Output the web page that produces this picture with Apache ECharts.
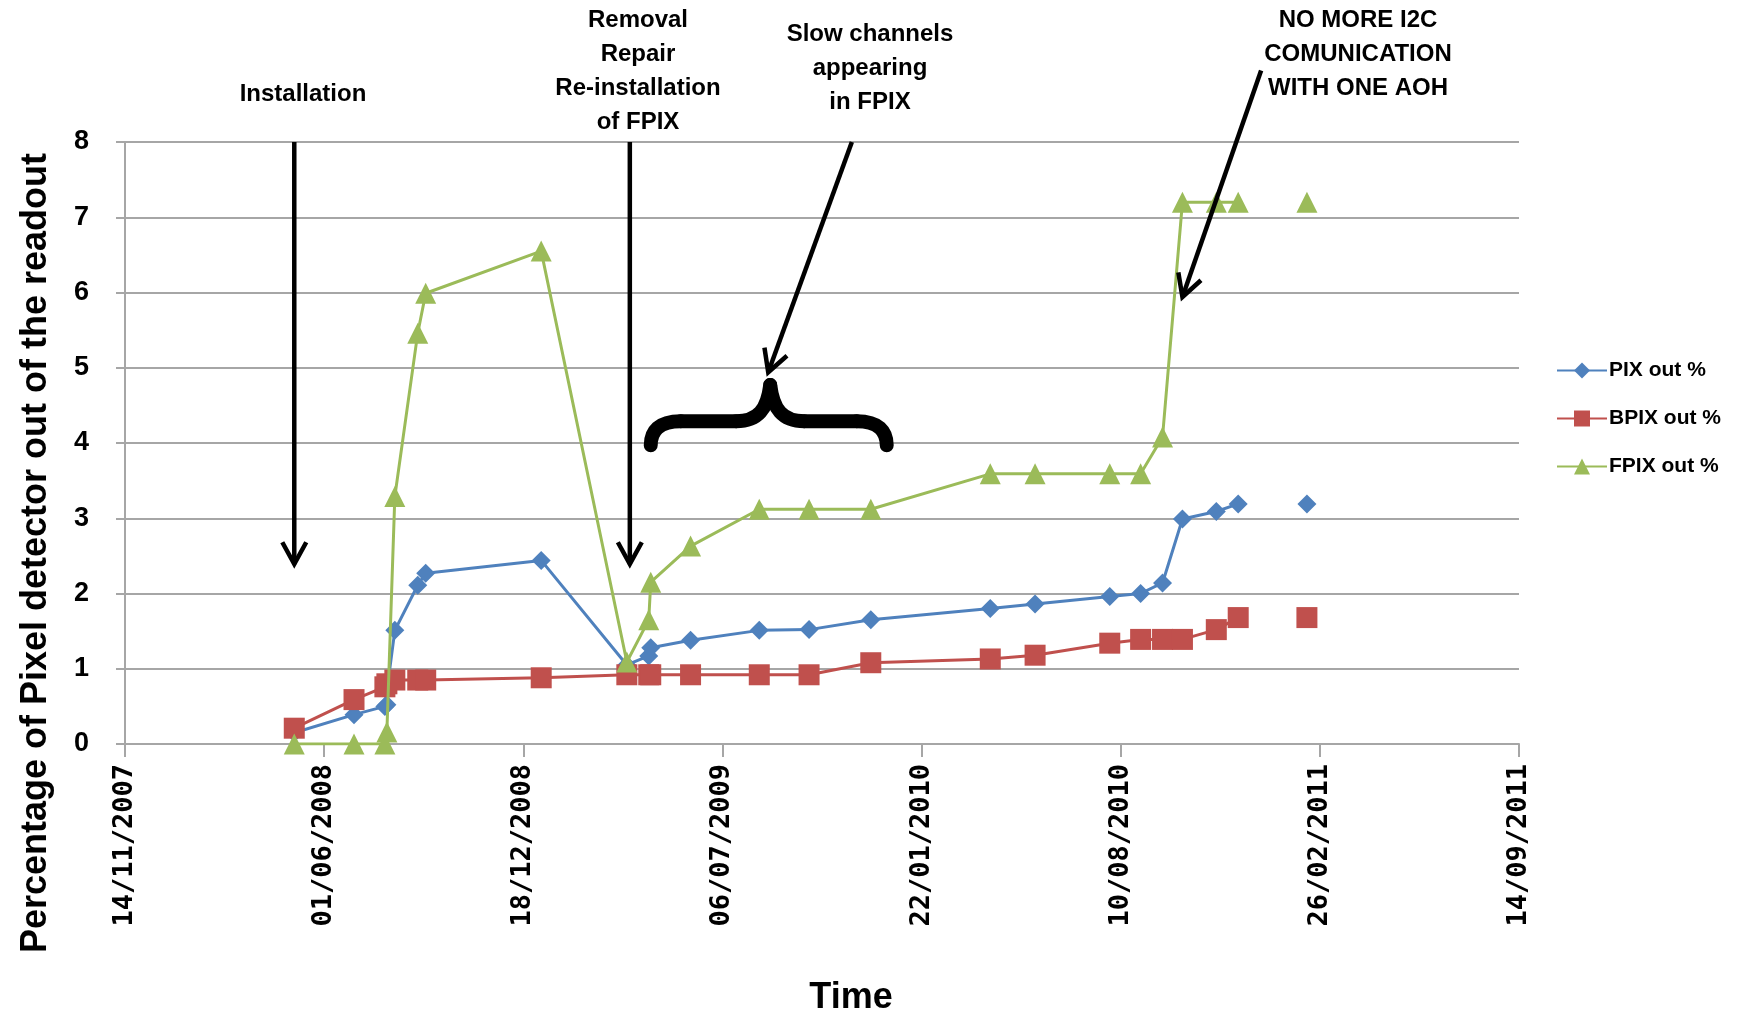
<!DOCTYPE html>
<html>
<head>
<meta charset="utf-8">
<script src="https://cdn.jsdelivr.net/npm/echarts@6/dist/echarts.min.js"></script>
<style>
  html, body { margin: 0; padding: 0; background: #ffffff; }
  #chart { width: 1739px; height: 1023px; }
</style>
</head>
<body>
<div id="chart"></div>
<script>
// Readout snapshots of the pixel detector (dates stored as ISO strings).
// A null row marks a period with no readings, which breaks the lines.
const readoutDates = [
  '2008-05-02', '2008-07-01', '2008-08-01', '2008-08-03', '2008-08-11',
  '2008-09-03', '2008-09-11', '2009-01-05', '2009-04-01', '2009-04-23',
  '2009-04-25', '2009-06-04', '2009-08-12', '2009-10-01', '2009-12-02',
  '2010-04-01', '2010-05-16', '2010-07-30', '2010-08-30', '2010-09-21',
  '2010-10-11', '2010-11-14', '2010-12-06', '2011-01-10', '2011-02-13'
];
const pixOut = [
  0.15, 0.39, 0.50, 0.52, 1.51,
  2.11, 2.27, 2.44, 1.05, 1.17,
  1.28, 1.38, 1.51, 1.52, 1.65,
  1.80, 1.86, 1.96, 2.00, 2.14,
  2.99, 3.09, 3.19, null, 3.19
];
const bpixOut = [
  0.21, 0.59, 0.76, 0.80, 0.85,
  0.85, 0.85, 0.88, 0.92, 0.92,
  0.92, 0.92, 0.92, 0.92, 1.08,
  1.13, 1.18, 1.34, 1.39, 1.39,
  1.39, 1.52, 1.68, null, 1.68
];
const fpixOut = [
  0.00, 0.00, 0.00, 0.16, 3.29,
  5.46, 5.99, 6.55, 1.09, 1.65,
  2.15, 2.63, 3.12, 3.12, 3.12,
  3.59, 3.59, 3.59, 3.59, 4.08,
  7.20, 7.20, 7.20, null, 7.20
];
const seriesNames = ['PIX out %', 'BPIX out %', 'FPIX out %'];

// Time axis: starts 14/11/2007, one tick every 200 days up to 14/09/2011.
const axisStartDate = '2007-11-14';
const axisSpanDays = 1400;
const tickStepDays = 200;
const yMin = 0, yMax = 8, yStep = 1;

// Event notes drawn over the plot, anchored in [date, percentage] terms.
const eventArrows = [
  { from: ['2008-05-02', 8.0], to: ['2008-05-02', 2.39] },
  { from: ['2009-04-04', 8.0], to: ['2009-04-04', 2.39] },
  { from: ['2009-11-13', 8.0], to: ['2009-08-21', 4.94] },
  { from: ['2010-12-29', 8.95], to: ['2010-10-11', 5.94] }
];
const slowChannelSpan = { start: '2009-04-25', end: '2009-12-18', peak: '2009-08-23', top: 4.77, arm: 4.29, foot: 3.97 };
const eventNotes = [
  { text: 'Installation', x: 303, y: 94 },
  { text: 'Removal\nRepair\nRe-installation\nof FPIX', x: 638, y: 71 },
  { text: 'Slow channels\nappearing\nin FPIX', x: 870, y: 68 },
  { text: 'NO MORE I2C\nCOMUNICATION\nWITH ONE AOH', x: 1358, y: 54 }
];

const DAY_MS = 86400000;
const t0 = Date.parse(axisStartDate + 'T00:00:00Z');
function dayOffset(iso) {
  return Math.round((Date.parse(iso + 'T00:00:00Z') - t0) / DAY_MS);
}
function dayLabel(d) {
  const dt = new Date(t0 + d * DAY_MS);
  const p = n => String(n).padStart(2, '0');
  return p(dt.getUTCDate()) + '/' + p(dt.getUTCMonth() + 1) + '/' + dt.getUTCFullYear();
}
function toPoints(values) {
  return readoutDates.map((d, i) => [dayOffset(d), values[i] == null ? '-' : values[i]]);
}

const GRID_GRAY = '#A6A6A6';
const palette = ['#4F81BD', '#C0504D', '#9BBB59'];
const TEXT_FONT = '"Liberation Sans", Arial, sans-serif';

function lineSeries(idx, values, symbol, size, width) {
  return {
    name: seriesNames[idx],
    type: 'line',
    data: toPoints(values),
    symbol: symbol,
    symbolSize: size,
    connectNulls: false,
    lineStyle: { color: palette[idx], width: width },
    itemStyle: { color: palette[idx] },
    emphasis: { disabled: true },
    z: 2 + idx
  };
}

const chart = echarts.init(document.getElementById('chart'), null, { renderer: 'canvas' });

chart.setOption({
  animation: false,
  backgroundColor: '#ffffff',
  grid: { left: 125, right: 220, top: 142, bottom: 279, containLabel: false },
  legend: {
    orient: 'vertical',
    left: 1556,
    top: 360,
    itemWidth: 50,
    itemHeight: 20,
    itemGap: 27,
    padding: 0,
    data: seriesNames,
    textStyle: { fontFamily: TEXT_FONT, fontWeight: 'bold', fontSize: 21, color: '#000', padding: [0, 0, 0, -3] }
  },
  xAxis: {
    type: 'value',
    min: 0,
    max: axisSpanDays,
    interval: tickStepDays,
    axisLine: { show: true, lineStyle: { color: GRID_GRAY, width: 2 } },
    axisTick: { show: true, length: 13, lineStyle: { color: GRID_GRAY, width: 2 } },
    axisLabel: {
      rotate: 90,
      margin: 20,
      formatter: dayLabel,
      fontFamily: '"DejaVu Sans Mono", "Liberation Mono", monospace',
      fontWeight: 'bold',
      fontSize: 27,
      color: '#000'
    },
    splitLine: { show: false }
  },
  yAxis: {
    type: 'value',
    min: yMin,
    max: yMax,
    interval: yStep,
    axisLine: { show: true, lineStyle: { color: GRID_GRAY, width: 2 } },
    axisTick: { show: true, length: 9, lineStyle: { color: GRID_GRAY, width: 2 } },
    axisLabel: { margin: 36, fontFamily: TEXT_FONT, fontWeight: 'bold', fontSize: 27, color: '#000' },
    splitLine: { show: true, lineStyle: { color: GRID_GRAY, width: 2 } }
  },
  series: [
    lineSeries(0, pixOut, 'diamond', 19, 3),
    lineSeries(1, bpixOut, 'rect', 21, 3),
    lineSeries(2, fpixOut, 'triangle', 21, 3)
  ]
});

// ---- annotations: arrows, brace, notes and axis titles ----
function toPx(date, value) {
  return chart.convertToPixel({ gridIndex: 0 }, [dayOffset(date), value]);
}

const INK = { stroke: '#000', fill: null };

function arrowShapes(a) {
  const p1 = toPx(a.from[0], a.from[1]);
  const p2 = toPx(a.to[0], a.to[1]);
  const ang = Math.atan2(p2[1] - p1[1], p2[0] - p1[0]);
  const headLen = 25, spread = 0.5;
  const w1 = [p2[0] - headLen * Math.cos(ang - spread), p2[1] - headLen * Math.sin(ang - spread)];
  const w2 = [p2[0] - headLen * Math.cos(ang + spread), p2[1] - headLen * Math.sin(ang + spread)];
  return [
    { type: 'line', z: 10, shape: { x1: p1[0], y1: p1[1], x2: p2[0], y2: p2[1] },
      style: Object.assign({ lineWidth: 4.5 }, INK) },
    { type: 'polyline', z: 10, shape: { points: [w1, p2, w2] },
      style: Object.assign({ lineWidth: 4.5, lineJoin: 'miter' }, INK) }
  ];
}

// Curly brace lying on its side, built from curves and straight arms.
function braceShapes(b) {
  const L = toPx(b.start, b.arm)[0];
  const R = toPx(b.end, b.arm)[0];
  const M = toPx(b.peak, b.arm)[0];
  const T = toPx(b.peak, b.top)[1];
  const A = toPx(b.peak, b.arm)[1];
  const B = toPx(b.peak, b.foot)[1];
  const st = Object.assign({ lineWidth: 14, lineCap: 'round', lineJoin: 'round' }, INK);
  const curve = (x1, y1, c1x, c1y, c2x, c2y, x2, y2) => ({
    type: 'bezierCurve', z: 10,
    shape: { x1: x1, y1: y1, cpx1: c1x, cpy1: c1y, cpx2: c2x, cpy2: c2y, x2: x2, y2: y2 },
    style: st
  });
  const seg = (x1, y1, x2, y2) => ({ type: 'line', z: 10, shape: { x1: x1, y1: y1, x2: x2, y2: y2 }, style: st });
  return [
    curve(L, B, L, A + 10, L + 8, A, L + 30, A),
    seg(L + 30, A, M - 34, A),
    curve(M - 34, A, M - 12, A, M - 3, A - 12, M, T),
    curve(M, T, M + 3, A - 12, M + 12, A, M + 34, A),
    seg(M + 34, A, R - 30, A),
    curve(R - 30, A, R - 8, A, R, A + 10, R, B)
  ];
}

const graphics = [];
eventArrows.forEach(a => graphics.push(...arrowShapes(a)));
graphics.push(...braceShapes(slowChannelSpan));
eventNotes.forEach(n => graphics.push({
  type: 'text', z: 10,
  style: {
    text: n.text, x: n.x, y: n.y,
    textAlign: 'center', textVerticalAlign: 'middle',
    font: 'bold 24px ' + TEXT_FONT, lineHeight: 34, fill: '#000'
  }
}));
graphics.push({
  type: 'text', z: 10,
  x: 36, y: 553, rotation: Math.PI / 2,
  style: {
    text: 'Percentage of Pixel detector out of the readout',
    x: 0, y: 0, textAlign: 'center', textVerticalAlign: 'middle',
    font: 'bold 36px ' + TEXT_FONT, fill: '#000'
  }
});
graphics.push({
  type: 'text', z: 10,
  style: {
    text: 'Time', x: 851, y: 998, textAlign: 'center', textVerticalAlign: 'middle',
    font: 'bold 36px ' + TEXT_FONT, fill: '#000'
  }
});

chart.setOption({ graphic: graphics });
</script>
</body>
</html>
